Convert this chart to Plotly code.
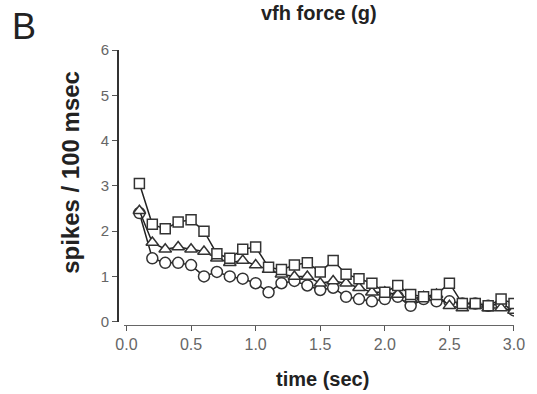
import plotly.graph_objects as go

time_s = [0.1, 0.2, 0.3, 0.4, 0.5, 0.6, 0.7, 0.8, 0.9, 1.0,
          1.1, 1.2, 1.3, 1.4, 1.5, 1.6, 1.7, 1.8, 1.9, 2.0,
          2.1, 2.2, 2.3, 2.4, 2.5, 2.6, 2.7, 2.8, 2.9, 3.0]

squares = [3.05, 2.15, 2.05, 2.2, 2.25, 2.0, 1.5, 1.4, 1.6, 1.65,
           1.2, 1.15, 1.25, 1.3, 1.1, 1.35, 1.05, 0.95, 0.85, 0.65,
           0.8, 0.6, 0.55, 0.6, 0.85, 0.4, 0.4, 0.35, 0.5, 0.4]

triangles = [2.45, 1.75, 1.6, 1.65, 1.6, 1.55, 1.4, 1.3, 1.35, 1.25,
             1.15, 1.05, 1.0, 1.0, 0.85, 0.9, 0.85, 0.75, 0.65, 0.65,
             0.6, 0.5, 0.55, 0.6, 0.35, 0.3, 0.35, 0.3, 0.3, 0.25]

circles = [2.4, 1.4, 1.3, 1.3, 1.25, 1.0, 1.1, 1.0, 0.95, 0.85,
           0.65, 0.85, 0.9, 0.8, 0.7, 0.75, 0.55, 0.5, 0.45, 0.5,
           0.55, 0.35, 0.5, 0.45, 0.45, 0.4, 0.4, 0.35, 0.4, 0.25]

x_ticks = [0.0, 0.5, 1.0, 1.5, 2.0, 2.5, 3.0]
x_tick_labels = ["0.0", "0.5", "1.0", "1.5", "2.0", "2.5", "3.0"]
y_ticks = [0, 1, 2, 3, 4, 5, 6]

FONT = "Arial, Liberation Sans, sans-serif"

fig = go.Figure()
for vals, sym, sz in [(circles, "circle", 11),
                      (triangles, "triangle-up", 11),
                      (squares, "square", 10)]:
    fig.add_trace(go.Scatter(
        x=time_s, y=vals, mode="lines+markers",
        line=dict(color="#222", width=1.5),
        marker=dict(symbol=sym, size=sz, color="white",
                    line=dict(width=1.5, color="#333")),
        showlegend=False,
    ))

L, R, T, B = 118, 16, 50, 69
W, H = 537, 394
pw, ph = W - L - R, H - T - B

def px(x):
    return (x - L) / pw

def py(y):
    return (H - B - y) / ph

fig.update_layout(
    width=W, height=H,
    margin=dict(l=L, r=R, t=T, b=B),
    paper_bgcolor="white", plot_bgcolor="white",
    font=dict(family=FONT, color="#444"),
    xaxis=dict(
        range=[-0.02, 3.0], domain=[px(124), 1],
        tickvals=x_ticks, ticktext=x_tick_labels,
        ticks="outside", ticklen=5, tickwidth=1, tickcolor="#555",
        showline=True, linecolor="#666", linewidth=1,
        showgrid=False, zeroline=False,
        anchor="free", position=0,
        tickfont=dict(size=16, color="#666", family=FONT),
    ),
    yaxis=dict(
        range=[0, 6], domain=[py(321.7), 1],
        tickvals=y_ticks,
        ticks="outside", ticklen=5, tickwidth=1, tickcolor="#555",
        showline=True, linecolor="#333", linewidth=1.8,
        showgrid=False, zeroline=False,
        anchor="free", position=0,
        tickfont=dict(size=15, color="#666", family=FONT),
    ),
    annotations=[
        dict(text="B", x=px(8), y=py(27), xref="paper", yref="paper",
             xanchor="left", yanchor="middle", showarrow=False,
             font=dict(size=36, color="#222", family=FONT)),
        dict(text="<b>vfh force (g)</b>", x=px(323), y=py(13), xref="paper", yref="paper",
             xanchor="center", yanchor="middle", showarrow=False,
             font=dict(size=20, color="#222", family=FONT)),
        dict(text="<b>time (sec)</b>", x=px(326), y=py(379), xref="paper", yref="paper",
             xanchor="center", yanchor="middle", showarrow=False,
             font=dict(size=20, color="#222", family=FONT)),
        dict(text="<b>spikes / 100 msec</b>", x=px(69), y=py(172), xref="paper", yref="paper",
             xanchor="center", yanchor="middle", showarrow=False, textangle=-90,
             font=dict(size=24, color="#222", family=FONT)),
    ],
)

fig.write_html("out.html")
